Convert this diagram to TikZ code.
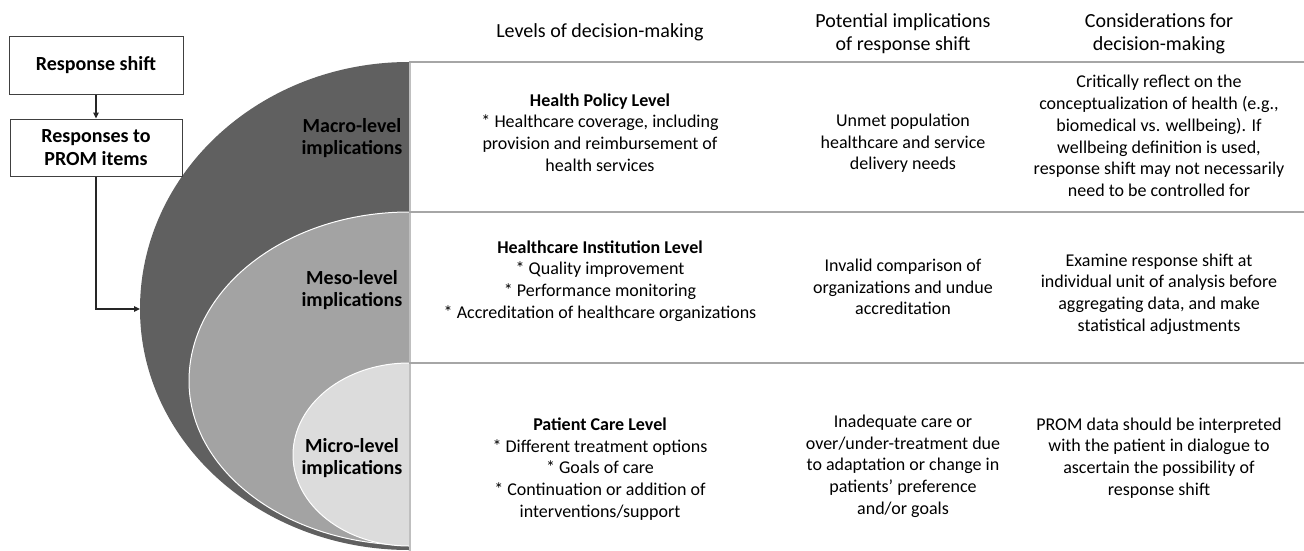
\documentclass[tikz,border=0pt]{standalone}
\usepackage{fontspec}
\setmainfont{Carlito}
\usetikzlibrary{arrows.meta}
\definecolor{darkc}{HTML}{606060}
\definecolor{mesoc}{HTML}{A3A3A3}
\definecolor{microc}{HTML}{DCDCDC}
\definecolor{rulec}{HTML}{A6A6A6}
\begin{document}
\begin{tikzpicture}[x=1pt,y=-1pt,
  head/.style={font=\fontsize{20}{23}\selectfont, align=center, inner sep=0pt, text=black},
  txt/.style={font=\fontsize{18}{21.7}\selectfont, align=center, inner sep=0pt, text=black},
  lbl/.style={font=\fontsize{20}{22.5}\selectfont\bfseries, align=center, inner sep=0pt, text=black},
  flowbox/.style={draw=black!75, line width=1pt, fill=white, minimum height=57pt, inner sep=2pt,
    font=\fontsize{20}{23}\selectfont\bfseries, align=center},
  conn/.style={line width=1.3pt, draw=black!85, -{Triangle[length=6pt,width=5.5pt]}},
  rule/.style={draw=rulec, line width=2pt},
  rim/.style={draw=white, line width=1pt}]
\useasboundingbox (0,0) rectangle (1304,551);
\fill[white] (0,0) rectangle (1304,551);

% nested half ellipses (top and bottom quarters with their own vertical radii)
\fill[darkc] (409,62) arc[start angle=270, end angle=180, x radius=269, y radius=247]
  arc[start angle=180, end angle=90, x radius=269, y radius=241] -- cycle;
\fill[mesoc] (409,212) arc[start angle=270, end angle=180, x radius=220, y radius=169]
  arc[start angle=180, end angle=90, x radius=220, y radius=164] -- cycle;
\draw[rim] (409,212) arc[start angle=270, end angle=180, x radius=220, y radius=169]
  arc[start angle=180, end angle=90, x radius=220, y radius=164];
\fill[microc] (409,363) arc[start angle=270, end angle=180, x radius=116, y radius=92]
  arc[start angle=180, end angle=90, x radius=116, y radius=91] -- cycle;
\draw[rim] (409,363) arc[start angle=270, end angle=180, x radius=116, y radius=92]
  arc[start angle=180, end angle=90, x radius=116, y radius=91];

% table rules
\draw[draw=black!25, line width=1.5pt] (410,62) -- (410,551);
\draw[rule] (409,62) -- (1304,62);
\draw[rule] (409,212) -- (1304,212);
\draw[rule] (409,363) -- (1304,363);

% flow boxes
\node[flowbox, minimum width=174pt] (rs) at (96,65.5) {Response shift};
\node[flowbox, minimum width=172pt] (rp) at (96,147.5) {Responses to\\PROM items};
\coordinate (target) at (140,309);
\draw[conn] (rs) -- (rp);
\draw[conn] (rp.south) |- (target);

% level labels
\node[lbl] (macro) at (352,138) {Macro-level\\implications};
\node[lbl] (meso) at (352,290) {Meso-level\\implications};
\node[lbl] (micro) at (352,458) {Micro-level\\implications};

% headers
\node[head] (h1) at (600,32) {Levels of decision-making};
\node[head] (h2) at (903,33.5) {Potential implications\\of response shift};
\node[head] (h3) at (1159,33.5) {Considerations for\\decision-making};

% row 1
\node[txt] (r1c1) at (600,132.5) {\textbf{Health Policy Level}\\* Healthcare coverage, including\\provision and reimbursement of\\health services};
\node[txt] (r1c2) at (903,143.5) {Unmet population\\healthcare and service\\delivery needs};
\node[txt] (r1c3) at (1159,136) {Critically reflect on the\\conceptualization of health (e.g.,\\biomedical vs. wellbeing). If\\wellbeing definition is used,\\response shift may not necessarily\\need to be controlled for};

% row 2
\node[txt] (r2c1) at (600,281) {\textbf{Healthcare Institution Level}\\* Quality improvement\\* Performance monitoring\\* Accreditation of healthcare organizations};
\node[txt] (r2c2) at (903,287) {Invalid comparison of\\organizations and undue\\accreditation};
\node[txt] (r2c3) at (1159,294) {Examine response shift at\\individual unit of analysis before\\aggregating data, and make\\statistical adjustments};

% row 3
\node[txt] (r3c1) at (600,469) {\textbf{Patient Care Level}\\* Different treatment options\\* Goals of care\\* Continuation or addition of\\interventions/support};
\node[txt] (r3c2) at (903,466) {Inadequate care or\\over/under-treatment due\\to adaptation or change in\\patients’ preference\\and/or goals};
\node[txt] (r3c3) at (1159,458) {PROM data should be interpreted\\with the patient in dialogue to\\ascertain the possibility of\\response shift};
\end{tikzpicture}
\end{document}
